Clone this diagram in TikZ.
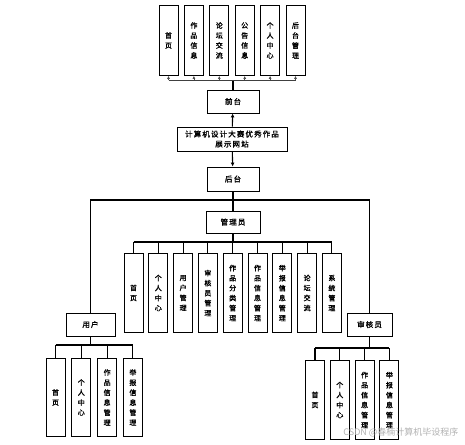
\documentclass[tikz,border=0pt]{standalone}
\usepackage{fontspec}
\newfontfamily\cjk[LetterSpace=15, FakeBold=1.5]{Noto Sans CJK SC}
\newfontfamily\cjkmark{Noto Sans CJK SC}
\usetikzlibrary{calc, positioning}
\usetikzlibrary{arrows.meta}

\tikzset{
  vbox/.style={draw, line width=0.9pt, minimum width=19pt, anchor=north,
    align=center, inner sep=0pt, font=\cjk\fontsize{7}{10}\selectfont},
  hbox/.style={draw, line width=0.9pt, minimum height=23pt, inner sep=1pt,
    align=center, font=\cjk\fontsize{7.5}{10}\selectfont},
  link/.style={line width=1.1pt},
  uparrow/.style={line width=0.7pt, draw=black!70, -{Latex[length=3pt, width=3pt]}},
}

\begin{document}
\begin{tikzpicture}[x=1pt, y=-1pt]
\useasboundingbox (0,0) rectangle (465,444);

% front end
\foreach \txt [count=\i] in {{首\\页}, {作\\品\\信\\息}, {论\\坛\\交\\流},
    {公\\告\\信\\息}, {个\\人\\中\\心}, {后\\台\\管\\理}}
  \node[vbox, minimum height=70pt] (top\i) at ({168.5+25.4*(\i-1)}, 5) {\txt};

\node[hbox, minimum width=52pt] (qt) at (233, 101.5) {前台};
\node[hbox, minimum width=110pt, minimum height=24pt] (site) at (232, 139)
  {计算机设计大赛优秀作品\\展示网站};
\node[hbox, minimum width=52pt, minimum height=24pt] (ht) at (233, 179) {后台};

\coordinate (topbar) at (233, 80);
\draw[link] (qt.north) -- (topbar);
\draw[line width=0.9pt, draw=black!75] (top1.south |- topbar) -- (top6.south |- topbar);
\foreach \i in {1,...,6}
  \draw[uparrow] (top\i.south |- topbar) -- (top\i.south);

\draw[link, -{Latex[length=4pt, width=4pt]}] (site) -- (qt);
\draw[link, -{Latex[length=4pt, width=4pt]}] (site) -- (ht);

% back end
\node[hbox, minimum width=54pt, minimum height=22pt] (adm) at (233, 222) {管理员};
\node[hbox, minimum width=49pt] (usr) at (90.5, 324.5) {用户};
\node[hbox, minimum width=45pt] (aud) at (369.5, 324.5) {审核员};

\coordinate (hbar) at (233, 200);
\draw[link] (ht) -- (hbar);
\draw[link] (usr) |- (hbar) -| (aud);
\draw[link] (hbar) -- (adm);

% administrator
\foreach \txt [count=\i] in {{首\\页}, {个\\人\\中\\心}, {用\\户\\管\\理},
    {审\\核\\员\\管\\理}, {作\\品\\分\\类\\管\\理}, {作\\品\\信\\息\\管\\理},
    {举\\报\\信\\息\\管\\理}, {论\\坛\\交\\流}, {系\\统\\管\\理}}
  \node[vbox, minimum height=79pt] (adm\i) at ({133.5+24.8*(\i-1)}, 253) {\txt};
\coordinate (admbar) at (233, 242);
\draw[link] (adm) -- (admbar);
\draw[link] (adm1.north |- admbar) -- (adm9.north |- admbar);
\foreach \i in {1,...,9}
  \draw[link] (adm\i.north |- admbar) -- (adm\i.north);

% user
\foreach \txt [count=\i] in {{首\\页}, {个\\人\\中\\心},
    {作\\品\\信\\息\\管\\理}, {举\\报\\信\\息\\管\\理}}
  \node[vbox, minimum height=78pt] (usr\i) at ({55.5+25.8*(\i-1)}, 358) {\txt};
\coordinate (usrbar) at (90.5, 345);
\draw[link] (usr) -- (usrbar);
\draw[link] (usr1.north |- usrbar) -- (usr4.north |- usrbar);
\foreach \i in {1,...,4}
  \draw[link] (usr\i.north |- usrbar) -- (usr\i.north);

% auditor
\foreach \txt [count=\i] in {{首\\页}, {个\\人\\中\\心},
    {作\\品\\信\\息\\管\\理}, {举\\报\\信\\息\\管\\理}}
  \node[vbox, minimum height=79pt] (aud\i) at ({315+24.8*(\i-1)}, 360) {\txt};
\coordinate (audbar) at (369.5, 348);
\draw[link] (aud) -- (audbar);
\draw[link] (aud1.north |- audbar) -- (aud4.north |- audbar);
\foreach \i in {1,...,4}
  \draw[link] (aud\i.north |- audbar) -- (aud\i.north);

\node[text=black!30, font=\cjkmark\fontsize{9}{10}\selectfont, anchor=east] (mark) at (462, 432)
  {CSDN @春楠计算机毕设程序};
\end{tikzpicture}
\end{document}
